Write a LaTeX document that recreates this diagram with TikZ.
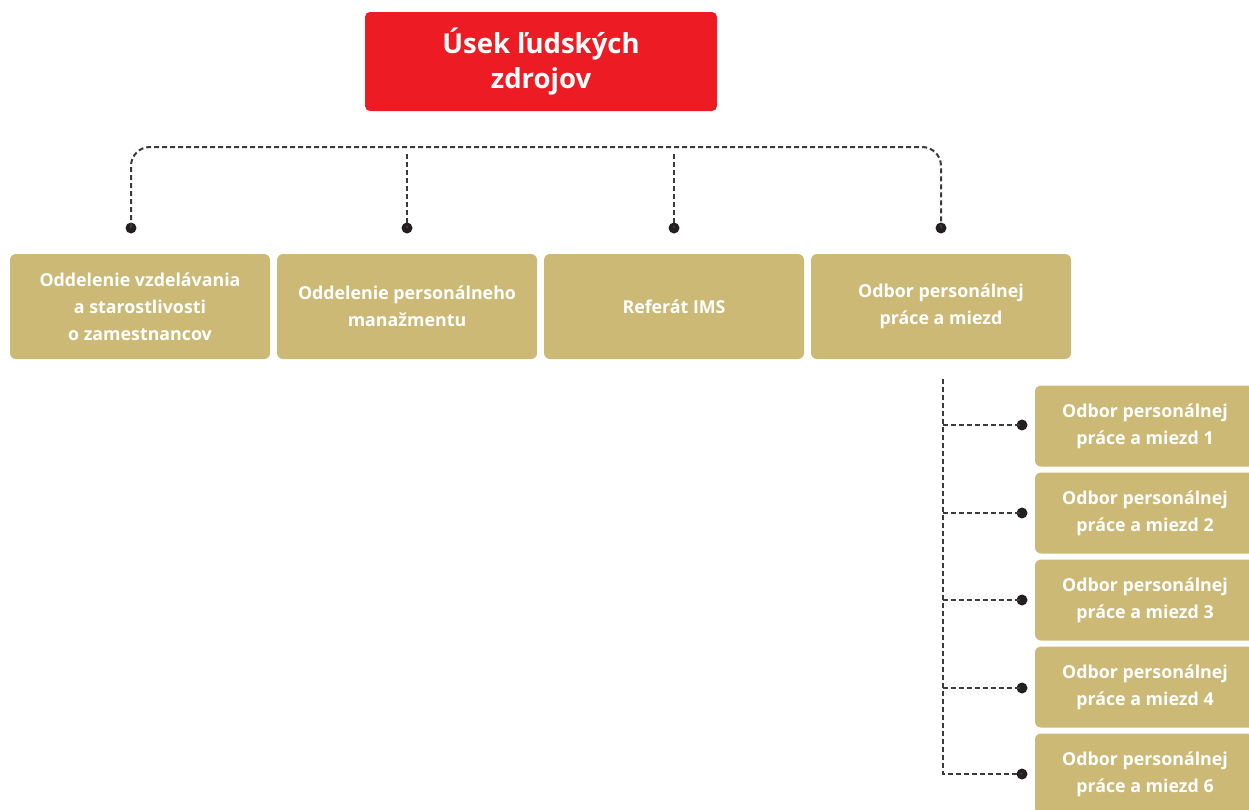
\documentclass[tikz,border=0pt]{standalone}
\usepackage{fontspec}
\setmainfont{Open Sans}
\definecolor{hrred}{HTML}{ED1C24}
\definecolor{hrgold}{HTML}{CCB975}
\definecolor{dotc}{HTML}{231F20}
\definecolor{linec}{HTML}{3A3A3A}
\tikzset{
  topbox/.style={fill=hrred, rounded corners=5pt, text=white, font=\bfseries\fontsize{27.5}{35}\selectfont, align=center, inner sep=0pt, minimum width=352pt, minimum height=99pt},
  deptbox/.style={fill=hrgold, rounded corners=6pt, text=white, font=\bfseries\fontsize{17.8}{27}\selectfont, align=center, inner sep=0pt, minimum width=260pt, minimum height=105pt},
  subbox/.style={fill=hrgold, rounded corners=6pt, text=white, font=\bfseries\fontsize{17.8}{27}\selectfont, align=center, inner sep=0pt, minimum width=220pt, minimum height=81pt},
  dotnode/.style={circle, fill=dotc, inner sep=0pt, minimum size=11pt},
  conn/.style={draw=linec, line width=2pt, dash pattern=on 5pt off 3pt},
}
\begin{document}
\begin{tikzpicture}[x=1pt,y=-1pt]
\useasboundingbox (0,0) rectangle (1249,809);
\node[topbox] (top) at (541,61.5) {Úsek ľudských\\zdrojov};

\node[deptbox] (b1) at (140,306.5) {Oddelenie vzdelávania\\a starostlivosti\\o zamestnancov};
\node[deptbox] (b2) at (407,306.5) {Oddelenie personálneho\\manažmentu};
\node[deptbox] (b3) at (674,306.5) {Referát IMS};
\node[deptbox] (b4) at (941,306.5) {Odbor personálnej\\práce a miezd};

\node[dotnode] (d1) at (131,228) {};
\node[dotnode] (d2) at (407,228) {};
\node[dotnode] (d3) at (674,228) {};
\node[dotnode] (d4) at (941,228) {};
\coordinate (hy) at (0,147);
\coordinate (dy) at (0,154);

\draw[conn, rounded corners=19pt] (d1.center) -- (d1 |- hy) -- (d4 |- hy) -- (d4.center);
\draw[conn] (d2 |- dy) -- (d2.center);
\draw[conn] (d3 |- dy) -- (d3.center);

\node[subbox] (s1) at (1145,426) {Odbor personálnej\\práce a miezd 1};
\node[subbox] (s2) at (1145,513) {Odbor personálnej\\práce a miezd 2};
\node[subbox] (s3) at (1145,600) {Odbor personálnej\\práce a miezd 3};
\node[subbox] (s4) at (1145,687) {Odbor personálnej\\práce a miezd 4};
\node[subbox] (s5) at (1145,774) {Odbor personálnej\\práce a miezd 6};

\foreach \i/\y in {1/425,2/513,3/600,4/688,5/774}{
  \node[dotnode] (e\i) at (1022,\y) {};
}
\coordinate (vtop) at (943,379);
\draw[conn] (vtop) -- (vtop |- e5) -- (e5.center);
\foreach \i in {1,2,3,4}{
  \draw[conn] (vtop |- e\i) -- (e\i.center);
}
\end{tikzpicture}
\end{document}
